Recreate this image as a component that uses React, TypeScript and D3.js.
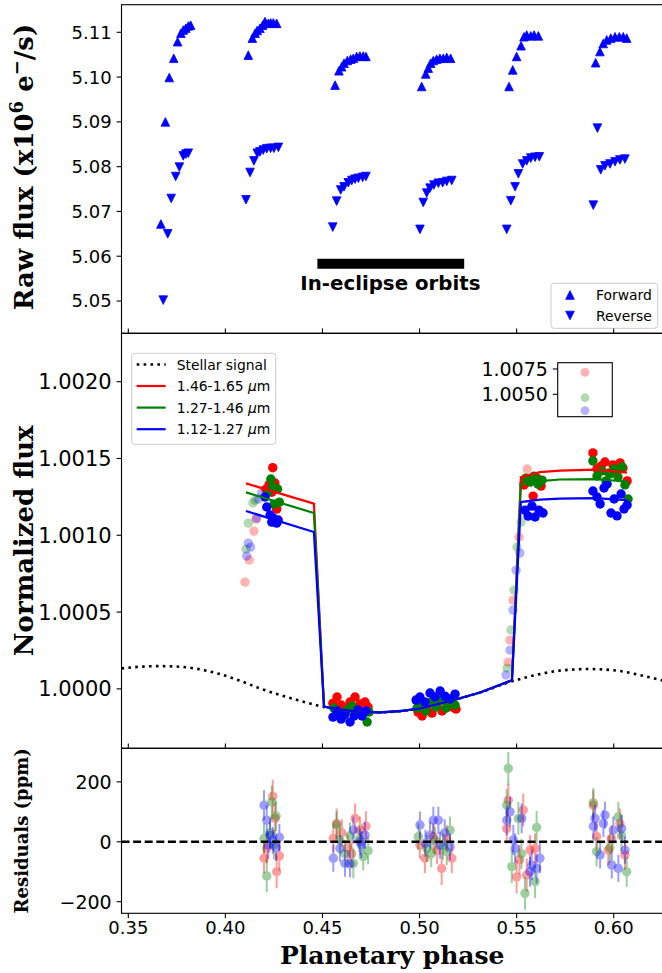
import React from "react";
import * as d3 from "d3";

type P = [number, number];
type R = [number, number, number];

// ---------- top panel: raw flux (x10^6 e-/s) ----------
const forwardScans: P[] = [
  [0.3668, 5.0672], [0.3691, 5.09], [0.3711, 5.0999], [0.3734, 5.1042], [0.3754, 5.1079], [0.3771, 5.1098], [0.3783, 5.1105], [0.3796, 5.1109], [0.3809, 5.1114], [0.3821, 5.1116],
  [0.4118, 5.1049], [0.4139, 5.1087], [0.4153, 5.1098], [0.4164, 5.1104], [0.4178, 5.1109], [0.4192, 5.1116], [0.4204, 5.1124], [0.4221, 5.112], [0.4233, 5.1121], [0.4247, 5.1121], [0.4264, 5.112],
  [0.4565, 5.0982], [0.4585, 5.1014], [0.4599, 5.1023], [0.4611, 5.1031], [0.4628, 5.1037], [0.4645, 5.104], [0.4659, 5.1042], [0.4676, 5.1046], [0.4693, 5.1047], [0.471, 5.1047], [0.4724, 5.1046],
  [0.5011, 5.0979], [0.5032, 5.1007], [0.5045, 5.102], [0.5057, 5.1031], [0.5071, 5.1037], [0.5088, 5.104], [0.5105, 5.1042], [0.5122, 5.1042], [0.514, 5.1044], [0.516, 5.1042],
  [0.5461, 5.0979], [0.548, 5.1016], [0.55, 5.1046], [0.5523, 5.107], [0.5538, 5.109], [0.5552, 5.1094], [0.5573, 5.1092], [0.559, 5.1094], [0.5612, 5.1092],
  [0.5907, 5.1032], [0.5929, 5.1057], [0.5946, 5.1075], [0.5964, 5.1083], [0.5985, 5.1087], [0.6007, 5.109], [0.6029, 5.109], [0.6049, 5.109], [0.6067, 5.1087],
];
const reverseScans: P[] = [
  [0.368, 5.0502], [0.3703, 5.065], [0.3721, 5.0729], [0.3744, 5.0778], [0.3763, 5.0799], [0.3783, 5.0824], [0.3797, 5.0828], [0.3809, 5.083],
  [0.4106, 5.0726], [0.4127, 5.0787], [0.4147, 5.0813], [0.4164, 5.083], [0.4178, 5.0833], [0.4195, 5.0837], [0.4213, 5.084], [0.4233, 5.0841], [0.425, 5.0841], [0.4273, 5.0843],
  [0.4553, 5.0665], [0.4573, 5.0723], [0.4594, 5.0748], [0.4611, 5.0755], [0.4633, 5.0764], [0.4651, 5.0769], [0.4668, 5.0772], [0.4685, 5.0774], [0.4707, 5.0776], [0.4724, 5.0778],
  [0.5002, 5.066], [0.5019, 5.072], [0.5037, 5.0741], [0.5054, 5.0752], [0.5074, 5.0759], [0.5097, 5.0763], [0.5119, 5.0764], [0.514, 5.0767], [0.5166, 5.0769],
  [0.5449, 5.066], [0.547, 5.0724], [0.5492, 5.0755], [0.5509, 5.0784], [0.5531, 5.0806], [0.5552, 5.0813], [0.5573, 5.0819], [0.5595, 5.0821], [0.5617, 5.0822],
  [0.5895, 5.0714], [0.5916, 5.0886], [0.5933, 5.0793], [0.5955, 5.0802], [0.5981, 5.0806], [0.6007, 5.0811], [0.6032, 5.0815], [0.6058, 5.0817],
];
const eclipseBar = [0.4474, 0.523, 5.0583];
const eclipseLabelPos = [0.485, 5.0525];
const rawTicks = [5.05, 5.06, 5.07, 5.08, 5.09, 5.1, 5.11];
const phaseTicks = [0.35, 0.4, 0.45, 0.5, 0.55, 0.6];
const normTicks = [1.0, 1.0005, 1.001, 1.0015, 1.002];
const resTicks = [-200, 0, 200];

// ---------- middle panel: normalized flux ----------
const bandLabels = ["1.46-1.65", "1.27-1.46", "1.12-1.27"];
const bandColors = ["#ff0000", "#008000", "#0000ff"];

const stellarSignal: P[] = [
  [0.3465, 1.000133], [0.356, 1.000144], [0.3663, 1.000148], [0.3766, 1.000144], [0.3869, 1.000127], [0.3972, 1.000096],
  [0.4075, 1.000053], [0.4178, 1.000003], [0.4281, 0.99996], [0.4384, 0.999923], [0.4487, 0.999888], [0.459, 0.999865],
  [0.4693, 0.99985], [0.4796, 0.999847], [0.49, 0.999855], [0.5003, 0.999872], [0.5158, 0.999921], [0.5312, 0.999976],
  [0.5466, 1.000045], [0.562, 1.000096], [0.5723, 1.000119], [0.5878, 1.000129], [0.6032, 1.000116], [0.6135, 1.00009], [0.6254, 1.000054],
];
const eclipseModel: P[] = [
  [0.4508, 0.999885], [0.459, 0.999865], [0.4693, 0.99985], [0.4796, 0.999847], [0.49, 0.999855], [0.5003, 0.999872],
  [0.5158, 0.999921], [0.5312, 0.999976], [0.5476, 1.000056],
];
const redPre: P[] = [[0.4106, 1.001338], [0.4456, 1.001206]];
const greenPre: P[] = [[0.4106, 1.001279], [0.4456, 1.001145]];
const bluePre: P[] = [[0.4106, 1.001158], [0.4456, 1.001021]];
const redPost: P[] = [[0.5522, 1.001379], [0.562, 1.001411], [0.5723, 1.001421], [0.5903, 1.001428], [0.6068, 1.001408]];
const greenPost: P[] = [[0.5522, 1.001333], [0.562, 1.001353], [0.5723, 1.001363], [0.5903, 1.001366], [0.6068, 1.00135]];
const bluePost: P[] = [[0.5522, 1.001216], [0.562, 1.001232], [0.5723, 1.001239], [0.5903, 1.001242], [0.6068, 1.001229]];

const redFlux: P[] = [
  [0.4209, 1.0013], [0.4225, 1.00133], [0.4239, 1.00128], [0.4244, 1.00144], [0.4255, 1.00134], [0.4264, 1.00117],
  [0.4554, 0.999907], [0.4575, 0.999947], [0.4596, 0.999895], [0.4621, 0.999875], [0.4642, 0.999914], [0.4668, 0.999947], [0.4693, 0.999901], [0.4719, 0.999914], [0.4735, 0.999882],
  [0.4992, 0.999849], [0.5013, 0.999823], [0.5039, 0.999868], [0.5064, 0.999842], [0.509, 0.999888], [0.5116, 0.999856], [0.5142, 0.999907], [0.5167, 0.999882], [0.5188, 0.999868],
  [0.5538, 1.001327], [0.5564, 1.001359], [0.5585, 1.001255], [0.5605, 1.001372], [0.5626, 1.00132],
  [0.5893, 1.001536], [0.5914, 1.001432], [0.5935, 1.001451], [0.5955, 1.001477], [0.5976, 1.001406], [0.5996, 1.001458], [0.6017, 1.001419], [0.6033, 1.001471], [0.6048, 1.001438], [0.6069, 1.001354],
];
const greenFlux: P[] = [
  [0.422, 1.001281], [0.4234, 1.001366], [0.4244, 1.001314], [0.4251, 1.001203], [0.4269, 1.001301], [0.4278, 1.001216],
  [0.4559, 0.999875], [0.458, 0.999849], [0.4606, 0.999823], [0.4626, 0.999862], [0.4652, 0.999888], [0.4678, 0.999842], [0.4704, 0.999829], [0.473, 0.999784], [0.474, 0.999849],
  [0.4987, 0.999875], [0.5008, 0.999901], [0.5033, 0.999856], [0.5059, 0.999914], [0.5085, 0.999882], [0.5111, 0.999927], [0.5136, 0.999875], [0.5162, 0.999907], [0.5183, 0.999895],
  [0.5548, 1.001372], [0.5569, 1.001346], [0.559, 1.001385], [0.561, 1.001333], [0.5631, 1.001359],
  [0.5893, 1.001484], [0.5914, 1.001386], [0.594, 1.001419], [0.596, 1.001354], [0.5981, 1.001399], [0.6002, 1.001432], [0.6022, 1.00138], [0.6043, 1.001445], [0.6058, 1.001328], [0.6074, 1.001236],
];
const blueFlux: P[] = [
  [0.4204, 1.001249], [0.4213, 1.001184], [0.423, 1.001132], [0.4239, 1.001086], [0.4247, 1.001112], [0.4264, 1.001079], [0.4272, 1.001099],
  [0.4554, 0.999816], [0.4575, 0.999856], [0.4596, 0.999803], [0.4616, 0.999836], [0.4642, 0.999784], [0.4663, 0.999823], [0.4683, 0.999862], [0.4704, 0.999823], [0.4724, 0.999856],
  [0.4982, 0.999927], [0.5002, 0.999947], [0.5028, 0.999914], [0.5054, 0.999973], [0.508, 0.999947], [0.5106, 0.999986], [0.5131, 0.999953], [0.5157, 0.999934], [0.5183, 0.999966],
  [0.5543, 1.001164], [0.5559, 1.001125], [0.5579, 1.00119], [0.5595, 1.001119], [0.5615, 1.001164], [0.5636, 1.001145],
  [0.5893, 1.001288], [0.5914, 1.001249], [0.593, 1.001204], [0.595, 1.001308], [0.5966, 1.001334], [0.5986, 1.001145], [0.6002, 1.001236], [0.6017, 1.001126], [0.6038, 1.001269], [0.6053, 1.001171], [0.6069, 1.001197],
];
const redPale: P[] = [
  [0.4101, 1.000695], [0.4123, 1.000839], [0.4147, 1.001027], [0.4158, 1.001105],
  [0.5456, 1.000174], [0.5466, 1.000317], [0.5481, 1.000578], [0.5512, 1.000988], [0.5538, 1.00134], [0.5554, 1.001431],
];
const greenPale: P[] = [
  [0.4106, 1.00091], [0.4118, 1.001079], [0.4142, 1.00121], [0.4153, 1.001229],
  [0.5451, 1.000135], [0.5471, 1.000383], [0.5487, 1.000643], [0.5502, 1.000923], [0.5523, 1.001086],
];
const bluePale: P[] = [
  [0.411, 1.000865], [0.4118, 1.000949], [0.413, 1.000923], [0.4161, 1.001112], [0.417, 1.001236], [0.4187, 1.001275],
  [0.5445, 1.00009], [0.5466, 1.000252], [0.5481, 1.000513], [0.5497, 1.000773], [0.5517, 1.000884],
];
const insetFlux = [1.00717, 1.00466, 1.00338];
const insetTicks = [1.005, 1.0075];

// ---------- bottom panel: residuals (ppm) [phase, ppm, error] ----------
const redRes: R[] = [
  [0.4199, -55, 50], [0.4213, -22, 50], [0.4244, 152, 55], [0.4256, 78, 50], [0.4264, -100, 55], [0.4278, -47, 50],
  [0.4556, 11, 45], [0.4573, 61, 50], [0.46, 30, 45], [0.463, -20, 45], [0.465, -40, 45], [0.4668, 78, 50], [0.4693, 39, 45], [0.4724, 52, 50],
  [0.5002, -11, 45], [0.5028, -55, 50], [0.5071, 17, 45], [0.509, -30, 45], [0.5114, -89, 55], [0.514, 10, 45], [0.5166, -55, 50],
  [0.5449, 44, 50], [0.5457, 139, 55], [0.55, -117, 55], [0.5515, -60, 50], [0.5534, 106, 55], [0.5552, -111, 55], [0.5569, -28, 50], [0.5595, -22, 50],
  [0.5895, 122, 50], [0.5912, 17, 50], [0.5972, -28, 50], [0.599, 10, 45], [0.6032, 61, 50], [0.6058, -44, 50],
];
const greenRes: R[] = [
  [0.4199, 11, 50], [0.4213, -114, 55], [0.423, 30, 50], [0.4239, 133, 55], [0.425, -10, 50], [0.4261, 86, 50],
  [0.4573, 56, 45], [0.459, 5, 45], [0.4616, -40, 45], [0.4642, 20, 45], [0.4659, -72, 50], [0.469, 10, 45], [0.471, -50, 45], [0.4735, -30, 45],
  [0.4994, 17, 45], [0.5037, -22, 45], [0.506, -40, 45], [0.508, 5, 45], [0.512, -15, 45], [0.514, -33, 45], [0.5157, 39, 45],
  [0.5449, 122, 55], [0.5457, 245, 55], [0.5475, -83, 55], [0.5509, 78, 55], [0.5525, -40, 50], [0.5543, -172, 55], [0.5595, -133, 55], [0.5603, 48, 55],
  [0.5895, 130, 50], [0.5912, -33, 50], [0.598, -20, 50], [0.6024, 83, 50], [0.604, 20, 50], [0.6067, -100, 50],
];
const blueRes: R[] = [
  [0.4199, 122, 50], [0.4213, 72, 50], [0.4221, -11, 45], [0.423, 22, 45], [0.4244, 5, 45], [0.4261, -19, 45], [0.4278, 15, 45],
  [0.4556, -55, 45], [0.459, -22, 45], [0.4616, -72, 45], [0.4642, -74, 45], [0.4659, 39, 45], [0.4693, 0, 45], [0.47, -10, 45], [0.4719, 22, 45],
  [0.5002, 56, 45], [0.503, -5, 45], [0.5054, 22, 45], [0.5071, 72, 45], [0.5097, 72, 45], [0.5105, -11, 45], [0.513, 30, 45], [0.5157, -17, 45],
  [0.5449, 72, 50], [0.5466, 100, 50], [0.5483, 6, 50], [0.5492, -22, 50], [0.5526, 78, 50], [0.5569, -100, 50], [0.5578, -78, 50], [0.5603, -89, 50], [0.562, -55, 50],
  [0.5895, 52, 45], [0.5904, 78, 45], [0.593, -44, 45], [0.5947, 61, 45], [0.5955, 89, 45], [0.599, -78, 45], [0.5998, 39, 45], [0.6024, -89, 45], [0.6041, 44, 45], [0.6058, -28, 45],
];

// ---------- layout ----------
const W = 662, H = 973;
const XL = 121.5, XR = 663;
const TOP = [4.7, 333.3];
const MID = [333.3, 748.3];
const BOT = [748.3, 913.3];
const TICK = 4.9;
const SANS = "DejaVu Sans, sans-serif";
const SERIF = "DejaVu Serif, serif";
const LEGFS = 13.9;

const x = d3.scaleLinear().domain([0.346498, 0.62539]).range([XL, XR]);
const yRaw = d3.scaleLinear().domain([5.04279, 5.11616]).range([TOP[1], TOP[0]]);
const yNorm = d3.scaleLinear().domain([0.999613, 1.002315]).range([MID[1], MID[0]]);
const yRes = d3.scaleLinear().domain([-238.7, 312]).range([BOT[1], BOT[0]]);
const insetBox = { x0: 557.7, x1: 612.3, y0: 362.7, y1: 416.7 };
const yInset = d3.scaleLinear().domain([1.00279, 1.00812]).range([insetBox.y1, insetBox.y0]);
const xInset = d3.scaleLinear().domain([-1, 1]).range([insetBox.x0, insetBox.x1]);

const triUp = (h: number) => `M0,${-h}L${h},${h}L${-h},${h}Z`;
const triDown = (h: number) => `M0,${h}L${h},${-h}L${-h},${-h}Z`;

const lineLin = d3.line<P>().x((d) => x(d[0])).y((d) => yNorm(d[1]));
const lineSmooth = d3.line<P>().x((d) => x(d[0])).y((d) => yNorm(d[1])).curve(d3.curveMonotoneX);

const fluxSets = [redFlux, greenFlux, blueFlux];
const paleSets = [redPale, greenPale, bluePale];
const resSets = [redRes, greenRes, blueRes];
const models: P[][] = [
  [...redPre, ...eclipseModel, ...redPost],
  [...greenPre, ...eclipseModel, ...greenPost],
  [...bluePre, ...eclipseModel, ...bluePost],
];

function YTicks({ ticks, scale, fmt, fs }: { ticks: number[]; scale: (v: number) => number; fmt: (v: number) => string; fs: number }) {
  return (
    <g>
      {ticks.map((t) => (
        <g key={t}>
          <line x1={XL - TICK} x2={XL} y1={scale(t)} y2={scale(t)} stroke="#000" strokeWidth={1.1} />
          <text x={XL - TICK - 4.9} y={scale(t)} dy="0.36em" textAnchor="end" fontFamily={SANS} fontSize={fs}>
            {fmt(t)}
          </text>
        </g>
      ))}
    </g>
  );
}

export default function App() {
  const f2 = d3.format(".2f");
  const f4 = d3.format(".4f");
  const fres = (v: number) => (v < 0 ? "\u2212" + Math.abs(v) : String(v));
  return (
    <svg width={W} height={H} style={{ position: "absolute", left: 0, top: 0, background: "#fff" }} xmlns="http://www.w3.org/2000/svg">
      <rect x={0} y={0} width={W} height={H} fill="#fff" />

      {/* ===== TOP PANEL ===== */}
      <g>
        {forwardScans.map((d, i) => (
          <path key={"f" + i} d={triUp(4.3)} transform={`translate(${x(d[0])},${yRaw(d[1])})`} fill="#0000ff" stroke="#0000ff" strokeWidth={0.8} />
        ))}
        {reverseScans.map((d, i) => (
          <path key={"r" + i} d={triDown(4.3)} transform={`translate(${x(d[0])},${yRaw(d[1])})`} fill="#0000ff" stroke="#0000ff" strokeWidth={0.8} />
        ))}
        <line x1={x(eclipseBar[0])} x2={x(eclipseBar[1])} y1={yRaw(eclipseBar[2])} y2={yRaw(eclipseBar[2])} stroke="#000" strokeWidth={10} />
        <text x={x(eclipseLabelPos[0])} y={yRaw(eclipseLabelPos[1])} textAnchor="middle" fontFamily={SANS} fontWeight="bold" fontSize={19.8}>
          In-eclipse orbits
        </text>
        {/* legend */}
        <rect x={551} y={283.3} width={106.7} height={45} rx={3} fill="#fff" fillOpacity={0.8} stroke="#cccccc" strokeWidth={1} />
        <path d={triUp(4.3)} transform="translate(570,295)" fill="#0000ff" stroke="#0000ff" strokeWidth={0.8} />
        <path d={triDown(4.3)} transform="translate(570,315.5)" fill="#0000ff" stroke="#0000ff" strokeWidth={0.8} />
        <text x={596} y={295} dy="0.36em" fontFamily={SANS} fontSize={LEGFS}>Forward</text>
        <text x={596} y={315.5} dy="0.36em" fontFamily={SANS} fontSize={LEGFS}>Reverse</text>
        <YTicks ticks={rawTicks} scale={yRaw} fmt={f2} fs={18} />
        <rect x={XL} y={TOP[0]} width={XR - XL} height={TOP[1] - TOP[0]} fill="none" stroke="#000" strokeWidth={1.1} />
      </g>

      {/* ===== MIDDLE PANEL ===== */}
      <g>
        <path d={lineSmooth(stellarSignal) || ""} fill="none" stroke="#000" strokeWidth={2.6} strokeDasharray="2.6,4.3" />
        {paleSets.map((set, c) =>
          set.map((d, i) => (
            <circle key={`p${c}-${i}`} cx={x(d[0])} cy={yNorm(d[1])} r={4.7} fill={bandColors[c]} fillOpacity={0.3} />
          ))
        )}
        {fluxSets.map((set, c) =>
          set.map((d, i) => (
            <circle key={`s${c}-${i}`} cx={x(d[0])} cy={yNorm(d[1])} r={4.7} fill={bandColors[c]} />
          ))
        )}
        {models.map((m, c) => (
          <path key={"m" + c} d={lineLin(m) || ""} fill="none" stroke={bandColors[c]} strokeWidth={2.2} />
        ))}
        {/* legend */}
        <rect x={131.7} y={353.3} width={144} height={91} rx={3} fill="#fff" fillOpacity={0.8} stroke="#cccccc" strokeWidth={1} />
        <line x1={136.7} x2={165.7} y1={364.5} y2={364.5} stroke="#000" strokeWidth={2.6} strokeDasharray="2.6,4.3" />
        <text x={176.7} y={364.5} dy="0.36em" fontFamily={SANS} fontSize={LEGFS}>Stellar signal</text>
        {bandLabels.map((b, i) => {
          const yy = 386 + i * 21.6;
          return (
            <g key={b}>
              <line x1={136.7} x2={165.7} y1={yy} y2={yy} stroke={bandColors[i]} strokeWidth={2.2} />
              <text x={176.7} y={yy} dy="0.36em" fontFamily={SANS} fontSize={LEGFS}>
                {b + " "}
                <tspan fontStyle="italic">{"\u03bc"}</tspan>m
              </text>
            </g>
          );
        })}
        {/* inset */}
        <rect x={insetBox.x0} y={insetBox.y0} width={insetBox.x1 - insetBox.x0} height={insetBox.y1 - insetBox.y0} fill="#fff" stroke="#000" strokeWidth={1.1} />
        {insetFlux.map((v, i) => (
          <circle key={"in" + i} cx={xInset(0)} cy={yInset(v)} r={4.4} fill={bandColors[i]} fillOpacity={0.3} />
        ))}
        {insetTicks.map((t) => (
          <g key={t}>
            <line x1={insetBox.x0 - TICK} x2={insetBox.x0} y1={yInset(t)} y2={yInset(t)} stroke="#000" strokeWidth={1.1} />
            <text x={insetBox.x0 - TICK - 4.9} y={yInset(t)} dy="0.36em" textAnchor="end" fontFamily={SANS} fontSize={19}>
              {f4(t)}
            </text>
          </g>
        ))}
        <YTicks ticks={normTicks} scale={yNorm} fmt={f4} fs={21} />
        {phaseTicks.map((t) => (
          <line key={"mt" + t} x1={x(t)} x2={x(t)} y1={MID[0] - TICK} y2={MID[0]} stroke="#000" strokeWidth={1.1} />
        ))}
        <rect x={XL} y={MID[0]} width={XR - XL} height={MID[1] - MID[0]} fill="none" stroke="#000" strokeWidth={1.1} />
      </g>

      {/* ===== BOTTOM PANEL ===== */}
      <g>
        {resSets.map((set, c) =>
          set.map((d, i) => (
            <g key={`e${c}-${i}`} opacity={0.38}>
              <line x1={x(d[0])} x2={x(d[0])} y1={yRes(d[1] - d[2])} y2={yRes(d[1] + d[2])} stroke={bandColors[c]} strokeWidth={2} />
              <circle cx={x(d[0])} cy={yRes(d[1])} r={4.7} fill={bandColors[c]} />
            </g>
          ))
        )}
        <line x1={XL} x2={XR} y1={yRes(0)} y2={yRes(0)} stroke="#000" strokeWidth={2.4} strokeDasharray="8,3.6" />
        <YTicks ticks={resTicks} scale={yRes} fmt={fres} fs={19} />
        {phaseTicks.map((t) => (
          <g key={"bt" + t}>
            <line x1={x(t)} x2={x(t)} y1={BOT[0] - TICK} y2={BOT[0]} stroke="#000" strokeWidth={1.1} />
            <line x1={x(t)} x2={x(t)} y1={BOT[1]} y2={BOT[1] + TICK} stroke="#000" strokeWidth={1.1} />
            <text x={x(t)} y={BOT[1] + TICK + 2.5} dy="0.76em" textAnchor="middle" fontFamily={SANS} fontSize={18}>
              {f2(t)}
            </text>
          </g>
        ))}
        <rect x={XL} y={BOT[0]} width={XR - XL} height={BOT[1] - BOT[0]} fill="none" stroke="#000" strokeWidth={1.1} />
      </g>

      {/* ===== axis labels ===== */}
      <text transform={`translate(24,${(TOP[0] + TOP[1]) / 2 - 2}) rotate(-90)`} textAnchor="middle" dy="0.36em" fontFamily={SERIF} fontWeight="bold" fontSize={26}>
        Raw flux (x10<tspan dy={-10} fontSize={18}>6</tspan>
        <tspan dy={10}> e</tspan>
        <tspan dy={-10} fontSize={18}>{"\u2212"}</tspan>
        <tspan dy={10}>/s)</tspan>
      </text>
      <text transform={`translate(24,${(MID[0] + MID[1]) / 2}) rotate(-90)`} textAnchor="middle" dy="0.36em" fontFamily={SERIF} fontWeight="bold" fontSize={26}>
        Normalized flux
      </text>
      <text transform={`translate(22,${(BOT[0] + BOT[1]) / 2}) rotate(-90)`} textAnchor="middle" dy="0.36em" fontFamily={SERIF} fontWeight="bold" fontSize={18}>
        Residuals (ppm)
      </text>
      <text x={(XL + XR) / 2} y={964} textAnchor="middle" fontFamily={SERIF} fontWeight="bold" fontSize={25}>
        Planetary phase
      </text>
    </svg>
  );
}
